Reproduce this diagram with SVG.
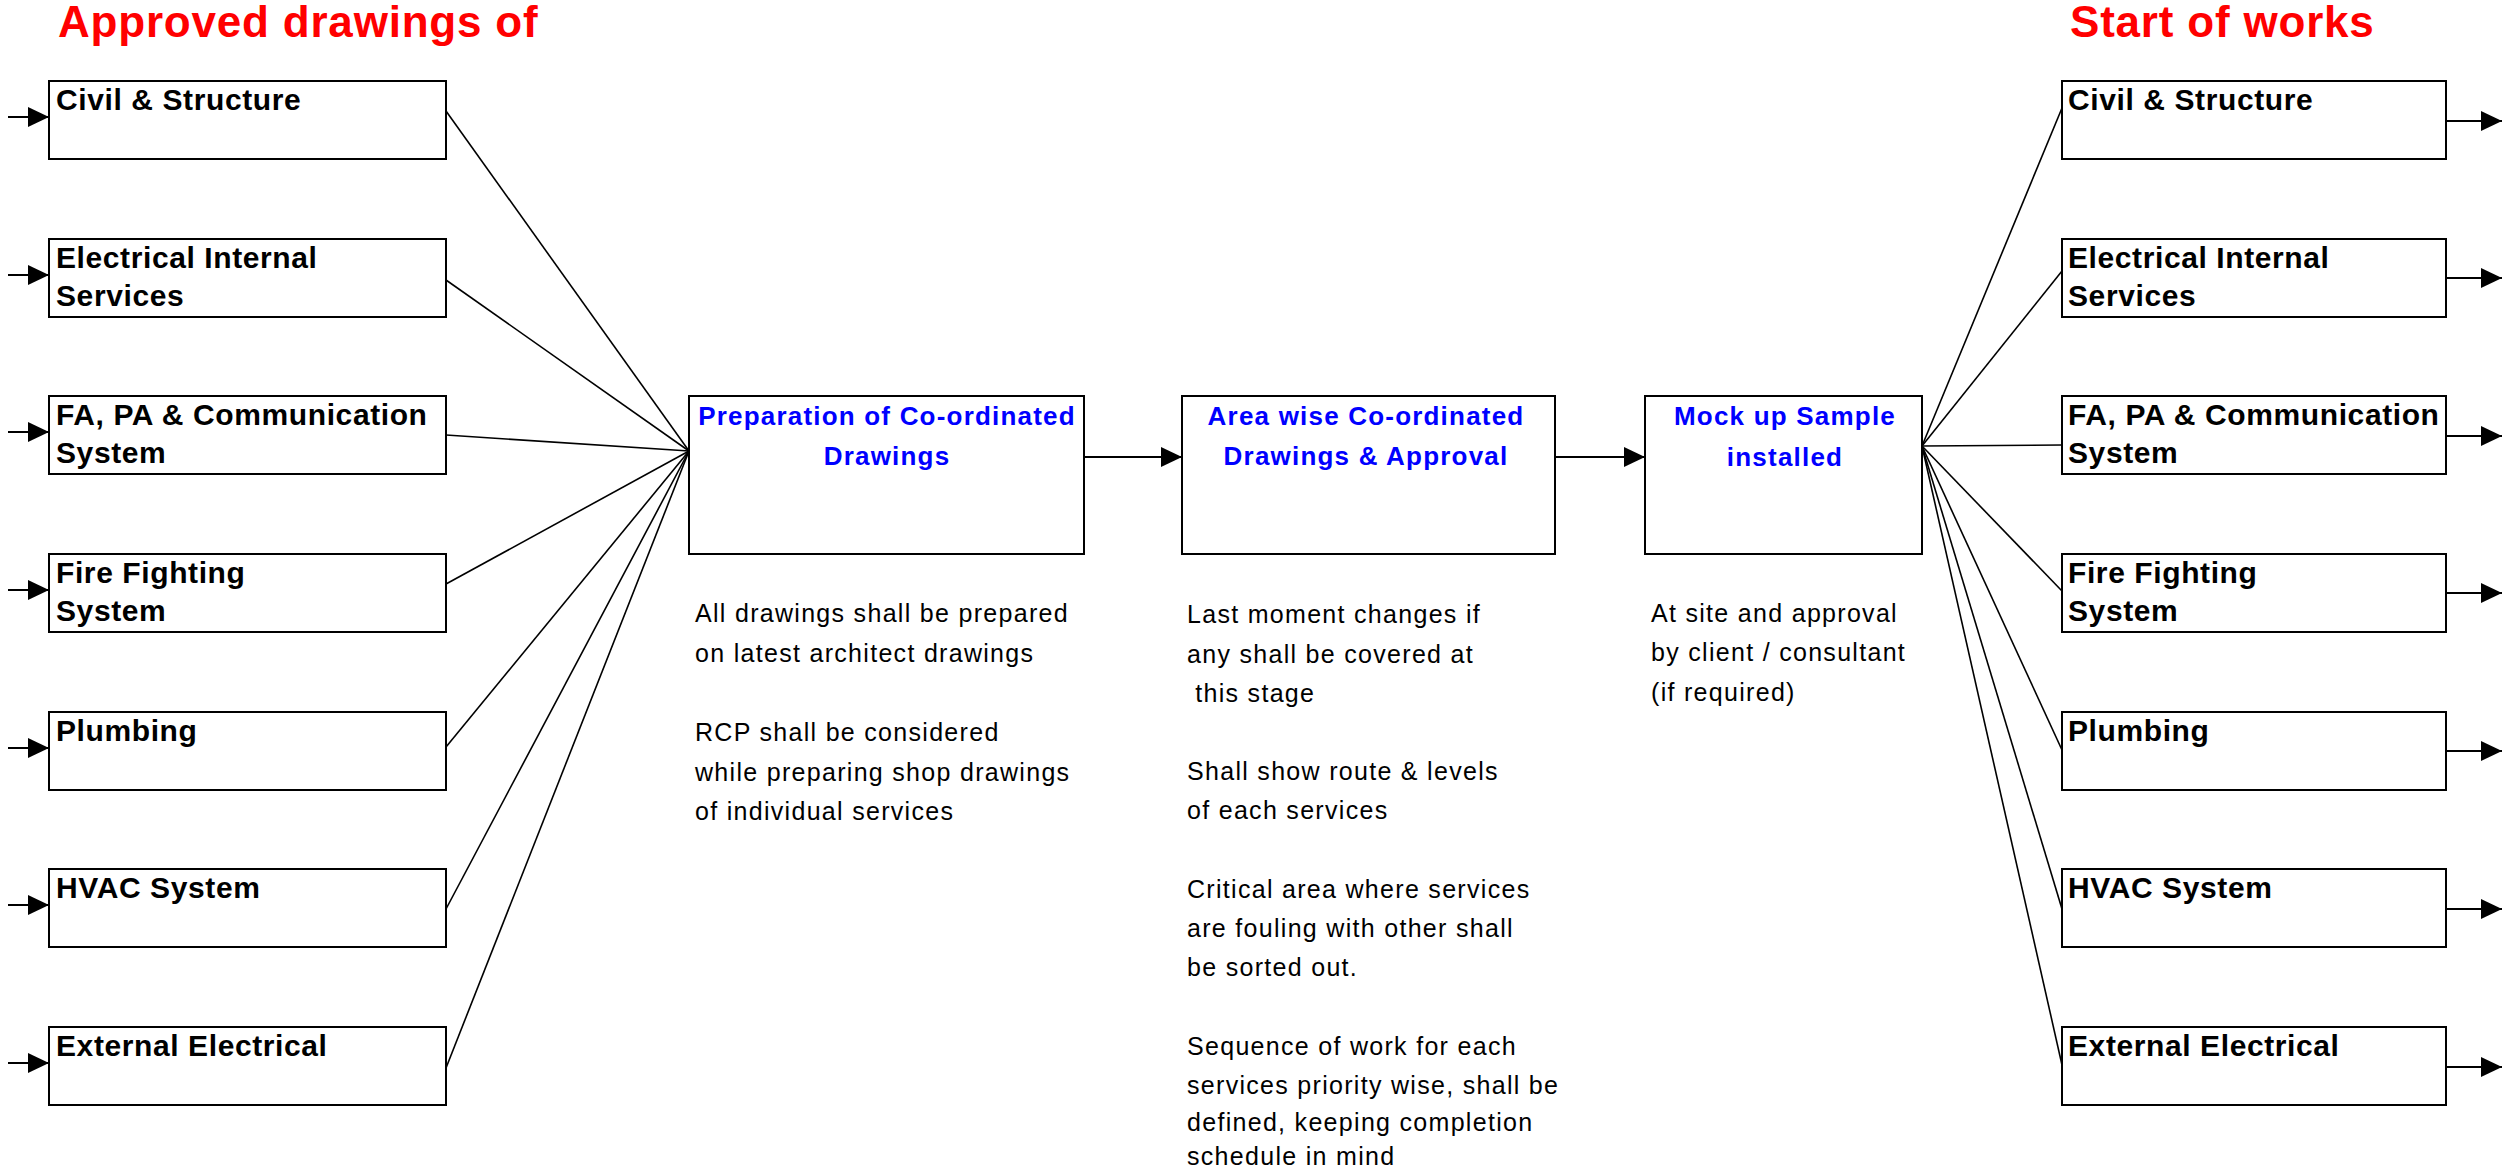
<svg xmlns="http://www.w3.org/2000/svg" width="2509" height="1175" viewBox="0 0 2509 1175">
<style>
.box{fill:#fff;stroke:#000;stroke-width:2}
.lbl{font-family:"Liberation Sans",Arial,sans-serif;font-weight:bold;font-size:30px;letter-spacing:0.6px;fill:#000}
.blue{font-family:"Liberation Sans",Arial,sans-serif;font-weight:bold;font-size:26px;letter-spacing:1.2px;fill:#0000ff;text-anchor:middle}
.note{font-family:"Liberation Sans",Arial,sans-serif;font-size:25px;letter-spacing:1.3px;fill:#000}
.title{font-family:"Liberation Sans",Arial,sans-serif;font-weight:bold;font-size:44px;letter-spacing:0.8px;fill:#ff0000}
.fan{stroke:#000;stroke-width:1.6;fill:none}
.arr{stroke:#000;stroke-width:2.2;fill:none;marker-end:url(#ah)}
</style>
<defs>
<marker id="ah" markerUnits="userSpaceOnUse" markerWidth="22" markerHeight="22" refX="21" refY="11" orient="auto">
<path d="M0,1 L21,11 L0,21 z" fill="#000"/>
</marker>
</defs>
<rect width="2509" height="1175" fill="#fff"/>

<text class="title" x="58" y="37">Approved drawings of</text>
<text class="title" x="2070" y="37">Start of works</text>

<g id="connectors">
<line class="arr" x1="8" y1="117" x2="49" y2="117"/>
<line class="arr" x1="8" y1="275" x2="49" y2="275"/>
<line class="arr" x1="8" y1="432" x2="49" y2="432"/>
<line class="arr" x1="8" y1="590" x2="49" y2="590"/>
<line class="arr" x1="8" y1="748" x2="49" y2="748"/>
<line class="arr" x1="8" y1="905" x2="49" y2="905"/>
<line class="arr" x1="8" y1="1063" x2="49" y2="1063"/>
<line class="fan" x1="446" y1="111" x2="689" y2="451"/>
<line class="fan" x1="446" y1="280" x2="689" y2="451"/>
<line class="fan" x1="446" y1="435" x2="689" y2="451"/>
<line class="fan" x1="446" y1="584" x2="689" y2="451"/>
<line class="fan" x1="446" y1="747" x2="689" y2="451"/>
<line class="fan" x1="446" y1="909" x2="689" y2="451"/>
<line class="fan" x1="446" y1="1068" x2="689" y2="451"/>
<line class="arr" x1="1084" y1="457" x2="1182" y2="457"/>
<line class="arr" x1="1555" y1="457" x2="1645" y2="457"/>
<line class="fan" x1="1922" y1="446" x2="2062" y2="108"/>
<line class="fan" x1="1922" y1="446" x2="2062" y2="271"/>
<line class="fan" x1="1922" y1="446" x2="2062" y2="445"/>
<line class="fan" x1="1922" y1="446" x2="2062" y2="591"/>
<line class="fan" x1="1922" y1="446" x2="2062" y2="750"/>
<line class="fan" x1="1922" y1="446" x2="2062" y2="909"/>
<line class="fan" x1="1922" y1="446" x2="2062" y2="1065"/>
<line class="arr" x1="2446" y1="121" x2="2502" y2="121"/>
<line class="arr" x1="2446" y1="278" x2="2502" y2="278"/>
<line class="arr" x1="2446" y1="436" x2="2502" y2="436"/>
<line class="arr" x1="2446" y1="593" x2="2502" y2="593"/>
<line class="arr" x1="2446" y1="751" x2="2502" y2="751"/>
<line class="arr" x1="2446" y1="909" x2="2502" y2="909"/>
<line class="arr" x1="2446" y1="1067" x2="2502" y2="1067"/>
</g>

<g id="in-civil"><rect class="box" x="49" y="81" width="397" height="78"/><text class="lbl" x="56" y="110">Civil &amp; Structure</text></g>
<g id="in-electrical"><rect class="box" x="49" y="239" width="397" height="78"/><text class="lbl" x="56" y="268">Electrical Internal</text><text class="lbl" x="56" y="306">Services</text></g>
<g id="in-fapa"><rect class="box" x="49" y="396" width="397" height="78"/><text class="lbl" x="56" y="425">FA, PA &amp; Communication</text><text class="lbl" x="56" y="463">System</text></g>
<g id="in-fire"><rect class="box" x="49" y="554" width="397" height="78"/><text class="lbl" x="56" y="583">Fire Fighting</text><text class="lbl" x="56" y="621">System</text></g>
<g id="in-plumbing"><rect class="box" x="49" y="712" width="397" height="78"/><text class="lbl" x="56" y="741">Plumbing</text></g>
<g id="in-hvac"><rect class="box" x="49" y="869" width="397" height="78"/><text class="lbl" x="56" y="898">HVAC System</text></g>
<g id="in-external"><rect class="box" x="49" y="1027" width="397" height="78"/><text class="lbl" x="56" y="1056">External Electrical</text></g>

<g id="prep"><rect class="box" x="689" y="396" width="395" height="158"/><text class="blue" x="887" y="425">Preparation of Co-ordinated</text><text class="blue" x="887" y="465">Drawings</text></g>
<g id="areawise"><rect class="box" x="1182" y="396" width="373" height="158"/><text class="blue" x="1366" y="425">Area wise Co-ordinated</text><text class="blue" x="1366" y="465">Drawings &amp; Approval</text></g>
<g id="mockup"><rect class="box" x="1645" y="396" width="277" height="158"/><text class="blue" x="1785" y="425">Mock up Sample</text><text class="blue" x="1785" y="466">installed</text></g>

<g id="note-prep">
<text class="note" x="695" y="622">All drawings shall be prepared</text>
<text class="note" x="695" y="662">on latest architect drawings</text>
<text class="note" x="695" y="741">RCP shall be considered</text>
<text class="note" x="695" y="781">while preparing shop drawings</text>
<text class="note" x="695" y="820">of individual services</text>
</g>
<g id="note-area">
<text class="note" x="1187" y="623">Last moment changes if</text>
<text class="note" x="1187" y="663">any shall be covered at</text>
<text class="note" x="1187" y="702" xml:space="preserve"> this stage</text>
<text class="note" x="1187" y="780">Shall show route &amp; levels</text>
<text class="note" x="1187" y="819">of each services</text>
<text class="note" x="1187" y="898">Critical area where services</text>
<text class="note" x="1187" y="937">are fouling with other shall</text>
<text class="note" x="1187" y="976">be sorted out.</text>
<text class="note" x="1187" y="1055">Sequence of work for each</text>
<text class="note" x="1187" y="1094">services priority wise, shall be</text>
<text class="note" x="1187" y="1131">defined, keeping completion</text>
<text class="note" x="1187" y="1165">schedule in mind</text>
</g>
<g id="note-mockup">
<text class="note" x="1651" y="622">At site and approval</text>
<text class="note" x="1651" y="661">by client / consultant</text>
<text class="note" x="1651" y="701">(if required)</text>
</g>

<g id="out-civil"><rect class="box" x="2062" y="81" width="384" height="78"/><text class="lbl" x="2068" y="110">Civil &amp; Structure</text></g>
<g id="out-electrical"><rect class="box" x="2062" y="239" width="384" height="78"/><text class="lbl" x="2068" y="268">Electrical Internal</text><text class="lbl" x="2068" y="306">Services</text></g>
<g id="out-fapa"><rect class="box" x="2062" y="396" width="384" height="78"/><text class="lbl" x="2068" y="425">FA, PA &amp; Communication</text><text class="lbl" x="2068" y="463">System</text></g>
<g id="out-fire"><rect class="box" x="2062" y="554" width="384" height="78"/><text class="lbl" x="2068" y="583">Fire Fighting</text><text class="lbl" x="2068" y="621">System</text></g>
<g id="out-plumbing"><rect class="box" x="2062" y="712" width="384" height="78"/><text class="lbl" x="2068" y="741">Plumbing</text></g>
<g id="out-hvac"><rect class="box" x="2062" y="869" width="384" height="78"/><text class="lbl" x="2068" y="898">HVAC System</text></g>
<g id="out-external"><rect class="box" x="2062" y="1027" width="384" height="78"/><text class="lbl" x="2068" y="1056">External Electrical</text></g>
</svg>
